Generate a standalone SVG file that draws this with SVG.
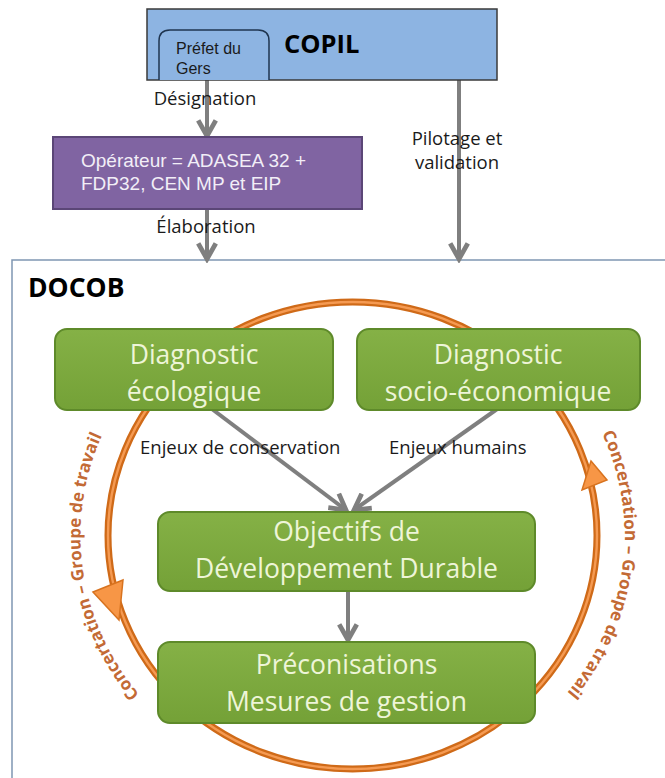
<svg xmlns="http://www.w3.org/2000/svg" width="665" height="778" viewBox="0 0 665 778">
<defs>
<style>
.lbl{font-family:"Open Sans","Noto Sans",sans-serif;font-size:18.5px;fill:#1a1a1a}
.gtx{font-family:"Open Sans","Noto Sans",sans-serif;font-size:26.5px;fill:#eef5d8;text-anchor:middle}
.gbox{fill:url(#gg);stroke:#5e8a2a;stroke-width:2}
.conn{stroke:#7f7f7f;stroke-width:4;fill:none;marker-end:url(#ah)}
.arc{font-family:"Open Sans","Noto Sans",sans-serif;font-weight:bold;font-size:17px;fill:#c36a35}
.ar{font-family:"Liberation Sans",Arial,sans-serif;fill:#1a1a1a}
</style>
<linearGradient id="gg" x1="0" y1="0" x2="0" y2="1">
<stop offset="0" stop-color="#85b146"/>
<stop offset="1" stop-color="#74a137"/>
</linearGradient>
<marker id="ah" viewBox="0 0 12 12" refX="10" refY="6" markerWidth="5.5" markerHeight="5.5" markerUnits="strokeWidth" orient="auto">
<path d="M1.5,1.2 L10,6 L1.5,10.8" fill="none" stroke="#7f7f7f" stroke-width="2.6" stroke-linejoin="miter"/>
</marker>
<path id="tl" d="M259.5,776.1 A272,256 0 0 1 196.5,325.8"/>
<path id="tr" d="M506.6,324.5 A272,256 0 0 1 447.8,775.3"/>
</defs>

<g id="docob">
<rect x="12" y="260" width="665" height="530" fill="#ffffff" stroke="#7f96b2" stroke-width="1.5"/>
<text x="28" y="297" font-family="'Open Sans','Noto Sans',sans-serif" font-weight="bold" font-size="26.5" fill="#000">DOCOB</text>
</g>

<g id="cycle">
<ellipse cx="352.5" cy="535.5" rx="244.5" ry="233.5" fill="none" stroke="#cf6a18" stroke-width="7"/>
<ellipse cx="352.5" cy="535.5" rx="244.5" ry="233.5" fill="none" stroke="#f59a52" stroke-width="2.4"/>
<polygon points="93,592 123,580 119,620" fill="#f79646" stroke="#d8731f" stroke-width="1.5"/>
<polygon points="591,461 607,480 582,490" fill="#f79646" stroke="#d8731f" stroke-width="1.5"/>
<text class="arc"><textPath href="#tl" startOffset="50%" text-anchor="middle">Concertation – Groupe de travail</textPath></text>
<text class="arc"><textPath href="#tr" startOffset="50%" text-anchor="middle">Concertation – Groupe de travail</textPath></text>
</g>

<g id="connectors">
<line class="conn" x1="207" y1="80" x2="207" y2="136"/>
<line class="conn" x1="207" y1="209" x2="207" y2="259"/>
<line class="conn" x1="459" y1="80" x2="459" y2="259"/>
<line class="conn" x1="200" y1="400" x2="346" y2="510"/>
<line class="conn" x1="510" y1="400" x2="354" y2="510"/>
<line class="conn" x1="348" y1="591" x2="348" y2="640"/>
</g>

<g id="labels">
<text class="lbl" x="205" y="105" text-anchor="middle">Désignation</text>
<text class="lbl" x="206" y="233" text-anchor="middle">Élaboration</text>
<text class="lbl" x="457" y="145" text-anchor="middle">Pilotage et</text>
<text class="lbl" x="457" y="169" text-anchor="middle">validation</text>
<text class="lbl" x="140" y="454">Enjeux de conservation</text>
<text class="lbl" x="389" y="454">Enjeux humains</text>
</g>

<g id="copil">
<rect x="147" y="9" width="350" height="71" fill="#8db4e2" stroke="#3a3a3a" stroke-width="1.5"/>
<text x="284" y="53" font-family="'Open Sans','Noto Sans',sans-serif" font-weight="bold" font-size="25.5" fill="#000">COPIL</text>
</g>

<g id="prefet">
<path d="M159,80 L159,41 Q159,30 170,30 L258,30 Q269,30 269,41 L269,80" fill="#8db4e2" stroke="#1f3550" stroke-width="1.5"/>
<text class="ar" x="176" y="54" font-size="16">Préfet du</text>
<text class="ar" x="176" y="74" font-size="16">Gers</text>
</g>

<g id="operateur">
<rect x="53" y="137" width="309" height="72" fill="#8064a2" stroke="#5b4677" stroke-width="2"/>
<text x="81" y="167" font-family="'Liberation Sans',Arial,sans-serif" font-size="19" fill="#f2eef7">Opérateur = ADASEA 32 +</text>
<text x="81" y="190" font-family="'Liberation Sans',Arial,sans-serif" font-size="19" fill="#f2eef7">FDP32, CEN MP et EIP</text>
</g>

<g id="diag-eco">
<rect class="gbox" x="55" y="329" width="278" height="81" rx="12"/>
<text class="gtx" x="194" y="364">Diagnostic</text>
<text class="gtx" x="194" y="401">écologique</text>
</g>

<g id="diag-socio">
<rect class="gbox" x="357" y="329" width="283" height="81" rx="12"/>
<text class="gtx" x="498" y="364">Diagnostic</text>
<text class="gtx" x="498" y="401">socio-économique</text>
</g>

<g id="objectifs">
<rect class="gbox" x="158" y="512" width="377" height="79" rx="12"/>
<text class="gtx" x="346.5" y="541">Objectifs de</text>
<text class="gtx" x="346.5" y="578">Développement Durable</text>
</g>

<g id="preconisations">
<rect class="gbox" x="158" y="642" width="377" height="81" rx="12"/>
<text class="gtx" x="346.5" y="674">Préconisations</text>
<text class="gtx" x="346.5" y="711">Mesures de gestion</text>
</g>
</svg>
